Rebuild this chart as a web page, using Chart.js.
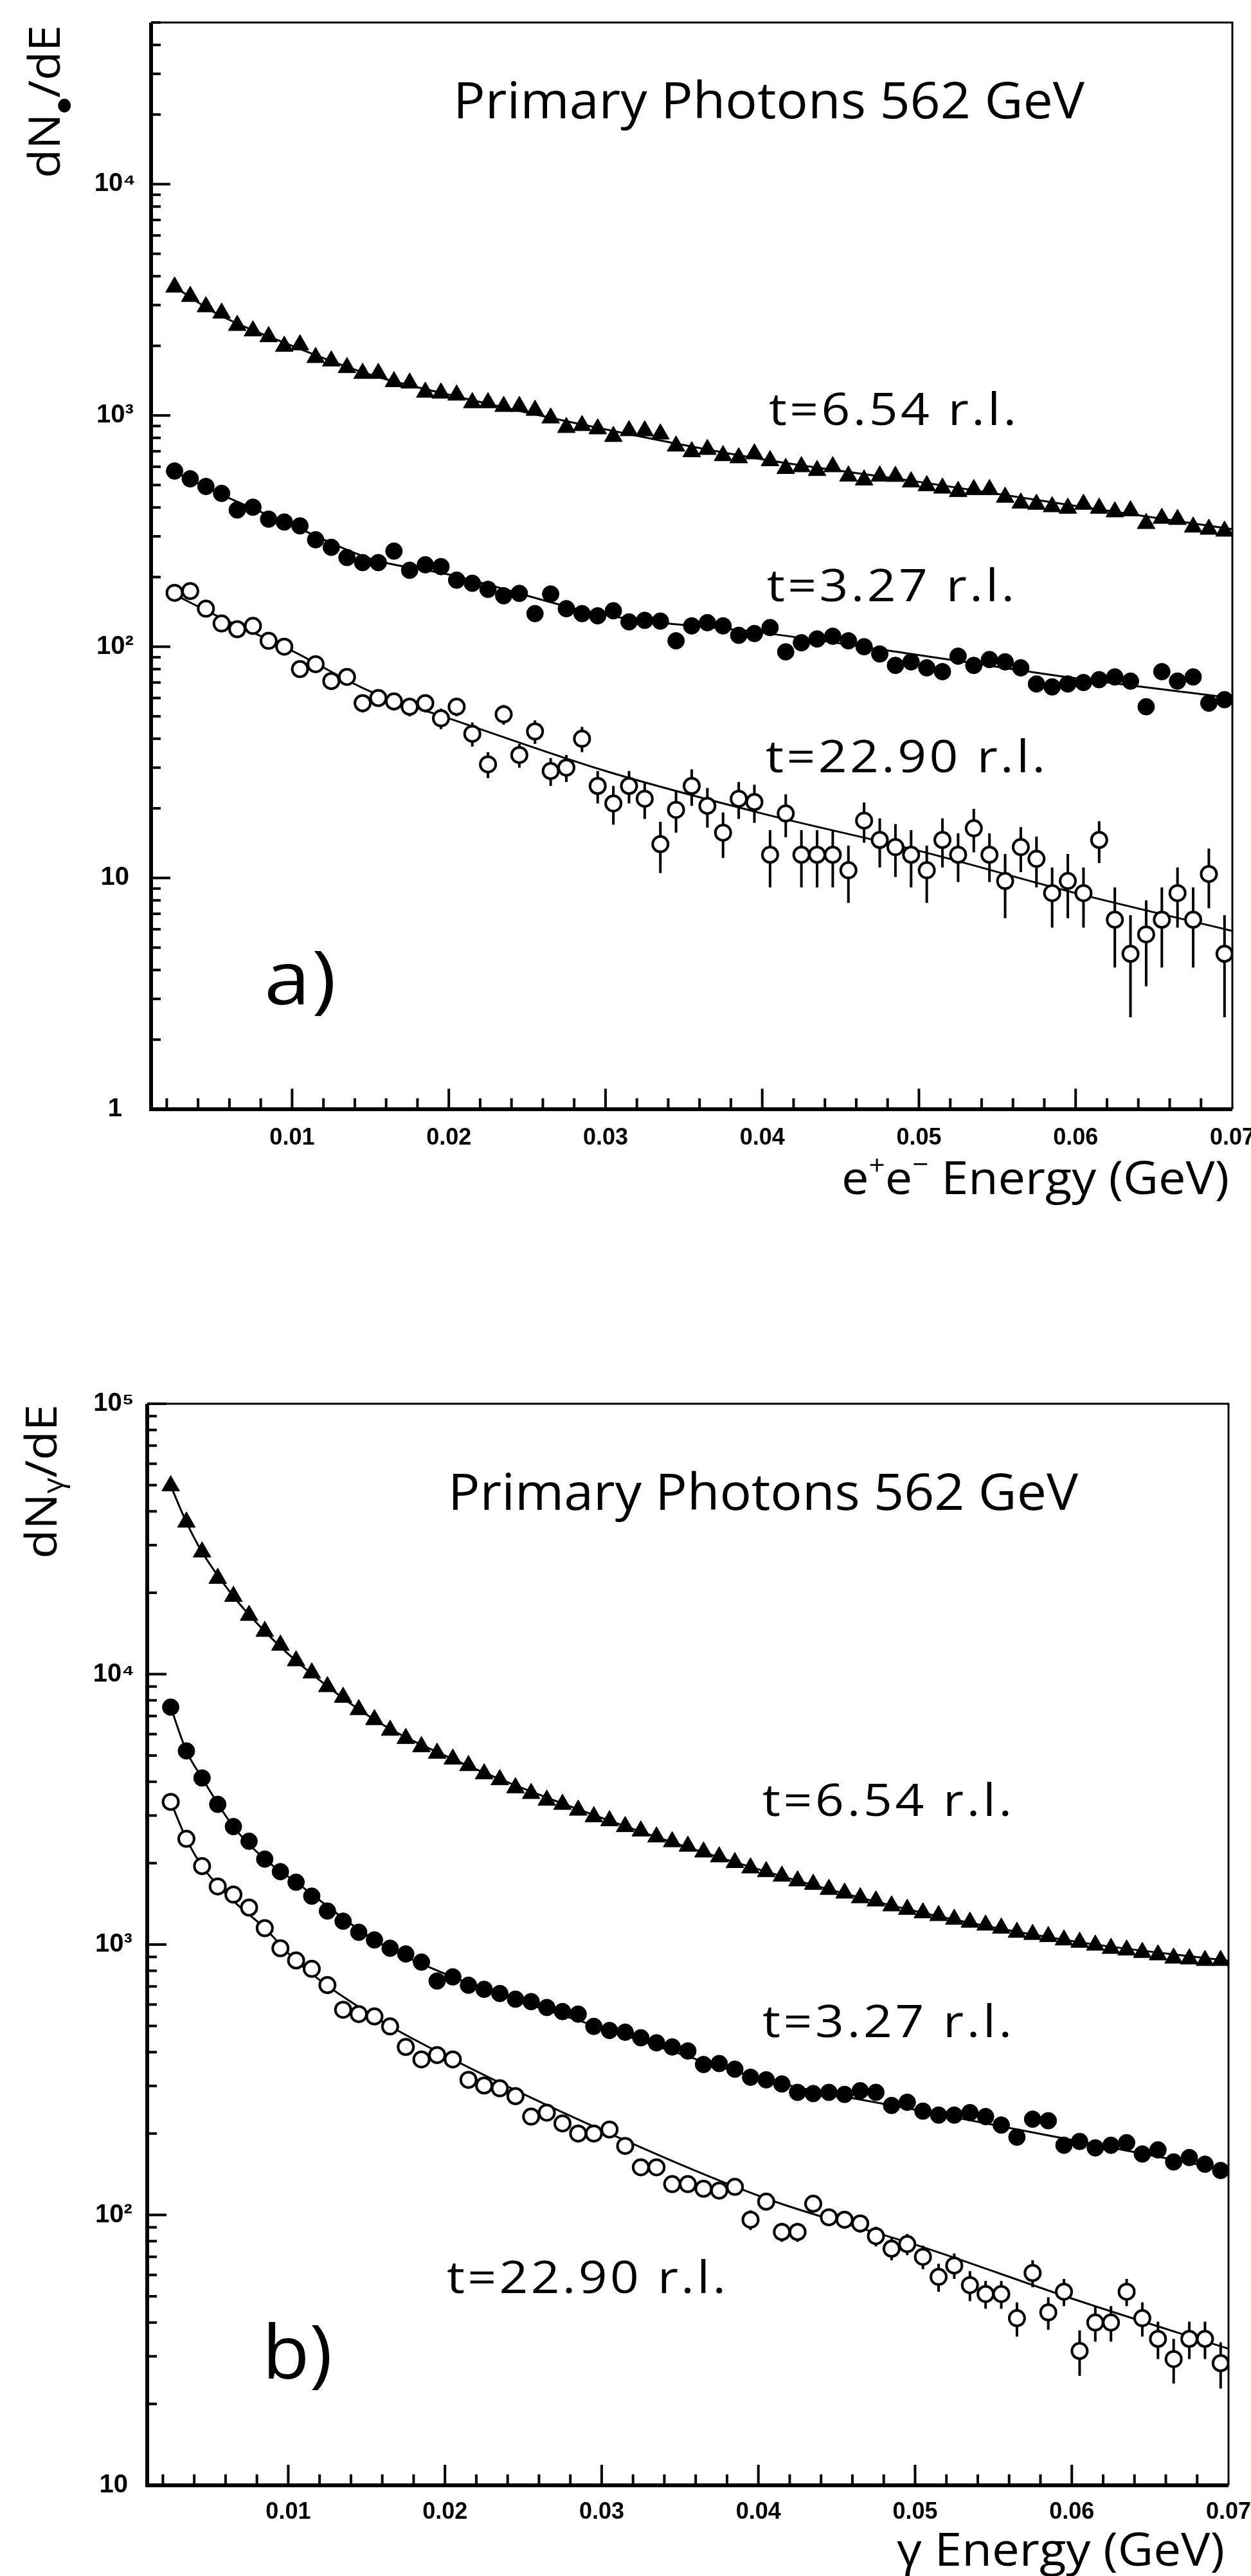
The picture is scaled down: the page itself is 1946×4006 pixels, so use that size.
<!DOCTYPE html>
<html lang="en">
<head>
<meta charset="UTF-8">
<title>Primary Photons 562 GeV</title>
<script src="https://cdn.jsdelivr.net/npm/chart.js"></script>
<style>
  html, body { margin: 0; padding: 0; background: #ffffff; }
  canvas { display: block; }
</style>
</head>
<body>
<canvas id="panelA" width="1946" height="2000"></canvas>
<canvas id="panelB" width="1946" height="2006"></canvas>
<script>
// bin centres in GeV, 1 MeV bins
const energy = [0.0025, 0.0035, 0.0045, 0.0055, 0.0065, 0.0075, 0.0085, 0.0095, 0.0105, 0.0115,
  0.0125, 0.0135, 0.0145, 0.0155, 0.0165, 0.0175, 0.0185, 0.0195, 0.0205, 0.0215,
  0.0225, 0.0235, 0.0245, 0.0255, 0.0265, 0.0275, 0.0285, 0.0295, 0.0305, 0.0315,
  0.0325, 0.0335, 0.0345, 0.0355, 0.0365, 0.0375, 0.0385, 0.0395, 0.0405, 0.0415,
  0.0425, 0.0435, 0.0445, 0.0455, 0.0465, 0.0475, 0.0485, 0.0495, 0.0505, 0.0515,
  0.0525, 0.0535, 0.0545, 0.0555, 0.0565, 0.0575, 0.0585, 0.0595, 0.0605, 0.0615,
  0.0625, 0.0635, 0.0645, 0.0655, 0.0665, 0.0675, 0.0685, 0.0695];

// a) e+e- spectra
const eeT654 = [3590, 3270, 2950, 2770, 2450, 2320, 2190, 1990, 2020, 1780,
  1720, 1610, 1520, 1520, 1400, 1380, 1260, 1250, 1225, 1135,
  1135, 1094, 1094, 1052, 975, 887, 904, 875, 811, 859,
  858, 831, 737, 697, 713, 670, 656, 682, 637, 590,
  600, 578, 600, 547, 526, 547, 545, 516, 497, 485,
  469, 478, 478, 443, 418, 413, 403, 397, 413, 397,
  383, 387, 341, 359, 355, 329, 322, 316];
const eeT327 = [575, 532, 493, 460, 390, 401, 356, 346, 333, 290,
  269, 243, 231, 231, 259, 214, 226, 222, 194, 188,
  177, 166, 170, 139, 169, 146, 139, 136, 143, 128,
  130, 129, 106, 123, 127, 123, 112, 114, 121, 95,
  104, 108, 111, 106, 100, 93, 83, 86, 81, 78,
  91, 83, 88, 86, 81, 69, 67, 69, 70, 72,
  74, 71, 55, 78, 71, 74, 57, 59];
const eeT2290 = [171, 174, 146, 126, 119, 123, 106, 100, 80, 84,
  71, 74, 57, 60, 58, 55, 57, 49, 55, 42,
  31, 51, 34, 43, 29, 30, 40, 25, 21, 25,
  22, 14, 19.7, 25, 20.5, 15.7, 22, 21.3, 12.6, 19,
  12.6, 12.6, 12.6, 10.8, 17.7, 14.6, 13.6, 12.6, 10.8, 14.6,
  12.6, 16.4, 12.6, 9.7, 13.6, 12.1, 8.6, 9.7, 8.6, 14.6,
  6.6, 4.7, 5.7, 6.6, 8.6, 6.6, 10.4, 4.7];
const eeT2290Err = [8, 8, 7, 7, 7, 7, 6, 6, 6, 6,
  5, 5, 5, 5, 5, 5, 5, 5, 5, 5,
  4, 5, 4, 5, 4, 4, 5, 4, 4, 4,
  4, 3.5, 4, 4.5, 4, 3.5, 4, 4, 3.5, 4,
  3.5, 3.5, 3.5, 3, 3.5, 3.5, 3.5, 3.5, 3, 3.5,
  3, 3.5, 3, 3, 3, 3, 2.5, 3, 2.5, 3,
  2.5, 2.2, 2.3, 2.5, 2.5, 2.5, 3, 2.2];

// fitted curves for a), read at a few energies
const eeFitEnergy = [0.0025, 0.005, 0.01, 0.015, 0.02, 0.03, 0.04, 0.05, 0.06, 0.07];
const eeFitT654 = [3600, 2800, 2000, 1500, 1230, 870, 646, 516, 406, 322];
const eeFitT327 = [570, 470, 335, 240, 205, 137, 115, 92, 73, 60];
const eeFitT2290 = [168, 138, 96, 64, 49, 29, 19, 13.1, 8.6, 5.9];

// b) photon spectra
const gT654 = [49700, 36500, 28300, 22600, 19400, 16500, 14400, 12800, 11200, 10100,
  8990, 8210, 7390, 6790, 6200, 5780, 5390, 5100, 4850, 4590,
  4280, 4070, 3800, 3620, 3420, 3300, 3140, 2970, 2870, 2730,
  2630, 2500, 2400, 2310, 2200, 2110, 2010, 1920, 1860, 1790,
  1720, 1670, 1600, 1550, 1490, 1450, 1390, 1350, 1310, 1280,
  1240, 1210, 1180, 1150, 1110, 1090, 1070, 1040, 1020, 995,
  968, 955, 935, 916, 891, 885, 873, 873];
const gT327 = [7550, 5200, 4130, 3300, 2730, 2410, 2070, 1860, 1700, 1510,
  1330, 1220, 1110, 1040, 969, 923, 861, 733, 759, 707,
  683, 659, 628, 615, 585, 565, 553, 498, 481, 474,
  452, 433, 418, 404, 360, 363, 346, 323, 316, 305,
  284, 281, 284, 279, 288, 284, 254, 261, 242, 234,
  234, 239, 231, 215, 194, 226, 223, 181, 187, 177,
  181, 185, 168, 174, 157, 163, 154, 146];
const gT2290 = [3370, 2460, 1950, 1640, 1530, 1370, 1150, 969, 873, 813,
  708, 574, 553, 542, 498, 418, 376, 390, 376, 316,
  301, 294, 275, 231, 239, 218, 200, 200, 207, 180,
  150, 150, 130, 130, 125, 123, 127, 96, 112, 86.5,
  86.5, 110, 98, 96, 93, 83.5, 75, 78, 70, 59,
  65, 55, 51, 51, 41.5, 61, 43.6, 52, 31.4, 40,
  40, 52, 41.5, 34.8, 29.3, 34.8, 34.8, 28.3];
const gT2290Err = [60, 45, 40, 35, 35, 30, 28, 25, 22, 20,
  18, 16, 16, 15, 14, 13, 13, 13, 12, 12,
  12, 12, 11, 10, 10, 10, 10, 10, 10, 9,
  9, 9, 8, 8, 8, 8, 8, 8, 8, 7,
  7, 8, 7, 7, 7, 7, 7, 7, 7, 7,
  7, 7, 6, 6, 6, 7, 6, 6, 6, 6,
  6, 6, 6, 5.5, 5.5, 5.5, 5.5, 5.5];

const gFitEnergy = [0.0025, 0.0035, 0.0045, 0.0065, 0.0085, 0.0105, 0.0155, 0.0205, 0.0305, 0.0405, 0.0505, 0.0605, 0.07];
const gFitT654 = [49700, 36500, 28300, 19400, 14400, 11200, 6790, 4850, 2870, 1860, 1310, 1020, 870];
const gFitT327 = [7550, 5200, 4130, 2730, 2070, 1700, 1040, 759, 481, 316, 242, 187, 146];
const gFitT2290 = [3370, 2460, 1950, 1450, 1150, 870, 540, 376, 200, 115, 76, 48, 32];

// axes
const energyTicks = [0.01, 0.02, 0.03, 0.04, 0.05, 0.06, 0.07];
const energyTickLabels = ['0.01', '0.02', '0.03', '0.04', '0.05', '0.06', '0.07'];
const eeYTicks = [1, 10, 100, 1000, 10000];
const eeYTickLabels = ['1', '10', '10²', '10³', '10⁴'];
const gYTicks = [10, 100, 1000, 10000, 100000];
const gYTickLabels = ['10', '10²', '10³', '10⁴', '10⁵'];

const TEXT_FONT = '"Open Sans", "DejaVu Sans", sans-serif';
const TICK_FONT = '"Liberation Sans", Arial, "DejaVu Sans", sans-serif';

function pts(xs, ys) {
  return xs.map((x, i) => ({ x: x, y: ys[i] }));
}

// draw a run of text pieces stretched to a given width, like the old plotter font
function fitText(ctx, pieces, x, y, width) {
  ctx.letterSpacing = '0px';
  let natural = 0, count = 0;
  for (const [t, size] of pieces) {
    ctx.font = `400 ${size}px ${TEXT_FONT}`;
    natural += ctx.measureText(t).width;
    count += [...t].length;
  }
  const sx = Math.min(Math.max(width / natural, 0.85), 1.12);
  const gap = (width / sx - natural) / Math.max(count - 1, 1);
  ctx.save();
  ctx.translate(x, y);
  ctx.scale(sx, 1);
  let cx = 0;
  for (const [t, size, dy] of pieces) {
    ctx.font = `400 ${size}px ${TEXT_FONT}`;
    ctx.letterSpacing = gap + 'px';
    ctx.fillText(t, cx, dy);
    cx += ctx.measureText(t).width;
  }
  ctx.letterSpacing = '0px';
  ctx.restore();
}

function decor(p) {
  return {
    id: 'decor',
    beforeDatasetsDraw(chart) {
      const { ctx, chartArea: a, scales: { x, y } } = chart;
      ctx.save();
      ctx.beginPath();
      ctx.rect(a.left, a.top, a.right - a.left, a.bottom - a.top);
      ctx.clip();
      ctx.strokeStyle = '#000';
      ctx.lineWidth = 4;
      p.values.forEach((v, i) => {
        const px = x.getPixelForValue(energy[i]);
        ctx.beginPath();
        ctx.moveTo(px, y.getPixelForValue(v + p.errors[i]));
        ctx.lineTo(px, y.getPixelForValue(Math.max(v - p.errors[i], y.min / 2)));
        ctx.stroke();
      });
      ctx.restore();
    },
    afterDraw(chart) {
      const { ctx, chartArea: a, scales: { x, y } } = chart;
      ctx.save();
      ctx.strokeStyle = '#000';
      ctx.fillStyle = '#000';
      ctx.lineWidth = 4;
      // log ticks pointing into the frame
      for (let e = 0; e <= 5; e++) {
        for (let m = 1; m <= 9; m++) {
          const v = m * Math.pow(10, e);
          if (v < y.min || v > y.max) continue;
          const py = y.getPixelForValue(v);
          ctx.beginPath();
          ctx.moveTo(a.left, py);
          ctx.lineTo(a.left + (m === 1 ? 30 : 15), py);
          ctx.stroke();
        }
      }
      // energy ticks every 2 MeV
      for (let i = 1; i * 0.002 < x.max - 1e-9; i++) {
        const px = x.getPixelForValue(i * 0.002);
        ctx.beginPath();
        ctx.moveTo(px, a.bottom);
        ctx.lineTo(px, a.bottom - (i % 5 === 0 ? 32 : 17));
        ctx.stroke();
      }
      // frame
      ctx.lineWidth = 6;
      ctx.beginPath();
      ctx.moveTo(a.left, a.top);
      ctx.lineTo(a.left, a.bottom);
      ctx.lineTo(a.right, a.bottom);
      ctx.stroke();
      ctx.lineWidth = 3;
      ctx.beginPath();
      ctx.moveTo(a.left, a.top);
      ctx.lineTo(a.right, a.top);
      ctx.lineTo(a.right, a.bottom);
      ctx.stroke();

      ctx.textBaseline = 'alphabetic';
      ctx.textAlign = 'left';
      for (const t of p.texts) {
        fitText(ctx, t.pieces, t.x, t.y, t.w);
      }
      // rotated y title
      ctx.save();
      ctx.translate(p.yTitle.x, p.yTitle.y);
      ctx.rotate(-Math.PI / 2);
      fitText(ctx, p.yTitle.pieces, 0, 0, p.yTitle.w);
      ctx.restore();
      ctx.restore();
    }
  };
}

function buildPanel(id, p) {
  const marker = { showLine: false, order: 1, borderColor: '#000' };
  const fit = { showLine: true, pointRadius: 0, borderColor: '#000', borderWidth: 3, cubicInterpolationMode: 'monotone', order: 2 };
  return new Chart(document.getElementById(id), {
    type: 'scatter',
    data: {
      datasets: [
        Object.assign({ label: 't=6.54 r.l. fit', data: pts(p.fitX, p.fits[0]) }, fit),
        Object.assign({ label: 't=3.27 r.l. fit', data: pts(p.fitX, p.fits[1]) }, fit),
        Object.assign({ label: 't=22.90 r.l. fit', data: pts(p.fitX, p.fits[2]) }, fit),
        Object.assign({ label: 't=6.54 r.l.', data: pts(energy, p.series[0]), pointStyle: 'triangle', pointRadius: 16, backgroundColor: '#000', borderWidth: 1 }, marker),
        Object.assign({ label: 't=3.27 r.l.', data: pts(energy, p.series[1]), pointStyle: 'circle', pointRadius: 13, backgroundColor: '#000', borderWidth: 1 }, marker),
        Object.assign({ label: 't=22.90 r.l.', data: pts(energy, p.series[2]), pointStyle: 'circle', pointRadius: 12, backgroundColor: '#fff', borderWidth: 4 }, marker)
      ]
    },
    options: {
      responsive: false,
      devicePixelRatio: 1,
      animation: false,
      events: [],
      layout: { padding: p.padding },
      plugins: { legend: { display: false }, tooltip: { enabled: false } },
      scales: {
        x: {
          type: 'linear',
          bounds: 'data',
          min: 0.001,
          max: 0.07,
          afterBuildTicks: s => { s.ticks = energyTicks.map(v => ({ value: v })); },
          afterFit: s => { s.height = p.xHeight; s.paddingLeft = 0; s.paddingRight = 0; },
          ticks: {
            autoSkip: false, maxRotation: 0, padding: p.xPad, color: '#000',
            font: { family: TICK_FONT, size: 36, weight: 'bold' },
            callback: (v, i) => energyTickLabels[i]
          },
          grid: { display: false, drawTicks: false },
          border: { display: false }
        },
        y: {
          type: 'logarithmic',
          bounds: 'data',
          min: p.yMin,
          max: p.yMax,
          afterBuildTicks: s => { s.ticks = p.yTicks.map(v => ({ value: v })); },
          afterFit: s => { s.width = p.yWidth; s.paddingTop = 0; s.paddingBottom = 0; },
          ticks: {
            autoSkip: false, padding: p.yPad, crossAlign: 'center', color: '#000',
            font: { family: TICK_FONT, size: 40, weight: 'bold' },
            callback: (v, i) => p.yTickLabels[i]
          },
          grid: { display: false, drawTicks: false },
          border: { display: false }
        }
      }
    },
    plugins: [decor(p)]
  });
}

buildPanel('panelA', {
  series: [eeT654, eeT327, eeT2290],
  values: eeT2290, errors: eeT2290Err,
  fitX: eeFitEnergy, fits: [eeFitT654, eeFitT327, eeFitT2290],
  yMin: 1, yMax: 50000, yTicks: eeYTicks, yTickLabels: eeYTickLabels,
  padding: { left: 0, right: 29, top: 35, bottom: 0 },
  yWidth: 235, xHeight: 275, xPad: 23, yPad: 24,
  texts: [
    { pieces: [['Primary Photons 562 GeV', 78, 0]], x: 705, y: 184, w: 982 },
    { pieces: [['t=6.54 r.l.', 70, 0]], x: 1196, y: 661, w: 385 },
    { pieces: [['t=3.27 r.l.', 70, 0]], x: 1193, y: 935, w: 385 },
    { pieces: [['t=22.90 r.l.', 70, 0]], x: 1191, y: 1201, w: 435 },
    { pieces: [['a)', 115, 0]], x: 411, y: 1562, w: 112 },
    { pieces: [['e', 72, 0], ['+', 42, -30], ['e', 72, 0], ['−', 42, -32], [' Energy (GeV)', 72, 0]], x: 1309, y: 1857, w: 603 }
  ],
  yTitle: { x: 93, y: 277, w: 238, pieces: [['dN', 68, 0], ['●', 26, 14], ['/dE', 68, 0]] }
});

buildPanel('panelB', {
  series: [gT654, gT327, gT2290],
  values: gT2290, errors: gT2290Err,
  fitX: gFitEnergy, fits: [gFitT654, gFitT327, gFitT2290],
  yMin: 10, yMax: 100000, yTicks: gYTicks, yTickLabels: gYTickLabels,
  padding: { left: 0, right: 35, top: 183, bottom: 0 },
  yWidth: 229, xHeight: 141, xPad: 20, yPad: 20,
  texts: [
    { pieces: [['Primary Photons 562 GeV', 78, 0]], x: 697, y: 348, w: 980 },
    { pieces: [['t=6.54 r.l.', 70, 0]], x: 1186, y: 824, w: 388 },
    { pieces: [['t=3.27 r.l.', 70, 0]], x: 1186, y: 1168, w: 388 },
    { pieces: [['t=22.90 r.l.', 70, 0]], x: 695, y: 1566, w: 434 },
    { pieces: [['b)', 115, 0]], x: 408, y: 1699, w: 109 },
    { pieces: [['γ Energy (GeV)', 72, 0]], x: 1395, y: 1990, w: 510 }
  ],
  yTitle: { x: 88, y: 424, w: 240, pieces: [['dN', 68, 0], ['γ', 44, 10], ['/dE', 68, 0]] }
});
</script>
</body>
</html>
